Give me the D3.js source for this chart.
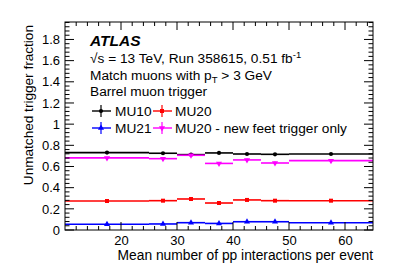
<!DOCTYPE html>
<html><head><meta charset="utf-8">
<script src="https://cdn.jsdelivr.net/npm/d3@7"></script>
<style>body{margin:0;background:#fff}svg{display:block;font-family:"Liberation Sans",Arial,sans-serif}</style>
</head><body><svg id="c" width="407" height="275"></svg>
<script>
const binEdges = [10, 25, 30, 35, 40, 45, 50, 65];
const mu10 = [0.731, 0.725, 0.712, 0.728, 0.718, 0.715, 0.718];
const mu20 = [0.274, 0.277, 0.293, 0.255, 0.284, 0.277, 0.277];
const mu21 = [0.054, 0.057, 0.069, 0.062, 0.078, 0.078, 0.069];
const mu20feet = [0.681, 0.674, 0.706, 0.629, 0.662, 0.633, 0.655];
const errs = [0.006, 0.006, 0.008, 0.008, 0.008, 0.008, 0.006];
const feetErrs = [0.012, 0.012, 0.014, 0.014, 0.014, 0.014, 0.012];
const xTicks = [20, 30, 40, 50, 60];
const yTicks = [0, 0.2, 0.4, 0.6, 0.8, 1, 1.2, 1.4, 1.6, 1.8];

const series = [
  {name: "MU10", vals: mu10, err: errs, color: "#000000", marker: "circle"},
  {name: "MU20", vals: mu20, err: errs, color: "#ff0000", marker: "square"},
  {name: "MU21", vals: mu21, err: errs, color: "#0000ff", marker: "triangle"},
  {name: "MU20 - new feet trigger only", vals: mu20feet, err: feetErrs, color: "#ff00ff", marker: "triangledown"}
];

const svg = d3.select("#c");
const L = 65, R = 373, T = 22, B = 230;
const x = d3.scaleLinear().domain([10, 65]).range([L, R]);
const y = d3.scaleLinear().domain([0, 1.965]).range([B, T]);

const symMap = {circle: d3.symbolCircle, square: d3.symbolSquare, triangle: d3.symbolTriangle, triangledown: d3.symbolTriangle};
function drawMarker(g, type, cx, cy, color, size) {
  g.append("path").attr("d", d3.symbol().type(symMap[type]).size(size)())
    .attr("fill", color)
    .attr("transform", `translate(${cx},${cy})` + (type === "triangledown" ? " rotate(180)" : ""));
}
const dg = svg.append("g");
series.forEach(s => {
  const g = dg.append("g");
  s.vals.forEach((v, i) => {
    const x0 = binEdges[i], x1 = binEdges[i + 1], xc = (x0 + x1) / 2;
    g.append("line").attr("x1", x(x0)).attr("x2", x(x1)).attr("y1", y(v)).attr("y2", y(v))
      .attr("stroke", s.color).attr("stroke-width", 1.6);
    g.append("line").attr("x1", x(xc)).attr("x2", x(xc)).attr("y1", y(v - s.err[i])).attr("y2", y(v + s.err[i]))
      .attr("stroke", s.color).attr("stroke-width", 1.2);
    drawMarker(g, s.marker, x(xc), y(v), s.color, s.marker === "circle" ? 14 : 16);
  });
});

const ax = svg.append("g").attr("stroke", "#000").attr("stroke-width", 1);
ax.append("rect").attr("x", L).attr("y", T).attr("width", R - L).attr("height", B - T).attr("fill", "none");
d3.range(12, 65, 2).forEach(v => {
  const len = v % 10 === 0 ? 8 : 4;
  ax.append("line").attr("x1", x(v)).attr("x2", x(v)).attr("y1", B).attr("y2", B - len);
  ax.append("line").attr("x1", x(v)).attr("x2", x(v)).attr("y1", T).attr("y2", T + len);
});
d3.range(0, 1.961, 0.04).forEach((v, i) => {
  const len = i % 5 === 0 ? 9 : 4.5;
  ax.append("line").attr("x1", L).attr("x2", L + len).attr("y1", y(v)).attr("y2", y(v));
  ax.append("line").attr("x1", R).attr("x2", R - len).attr("y1", y(v)).attr("y2", y(v));
});

const ff = "Liberation Sans, Arial, sans-serif";
const xAxis = d3.axisBottom(x).tickValues(xTicks).tickSize(0).tickPadding(6).tickFormat(d3.format("d"));
const xg = svg.append("g").attr("transform", `translate(0,${B})`).call(xAxis);
xg.select(".domain").remove();
xg.selectAll("text").attr("font-size", 13).attr("fill", "#000").attr("font-family", ff);
const yAxis = d3.axisLeft(y).tickValues(yTicks).tickSize(0).tickPadding(5).tickFormat(d => d === 0 || d === 1 ? d3.format("d")(d) : d3.format(".1f")(d));
const yg = svg.append("g").attr("transform", `translate(${L},0)`).call(yAxis);
yg.select(".domain").remove();
yg.selectAll("text").attr("font-size", 13).attr("fill", "#000").attr("font-family", ff);

svg.append("text").attr("x", R).attr("y", 260).attr("text-anchor", "end").attr("font-size", 13.8)
  .text("Mean number of pp interactions per event");
svg.append("text").attr("transform", `translate(33,${T + 3}) rotate(-90)`).attr("text-anchor", "end").attr("font-size", 13.6)
  .text("Unmatched trigger fraction");

const tx = 90, fs = 13.7;
svg.append("text").attr("x", tx).attr("y", 46).attr("font-size", 15.5).attr("font-weight", "bold").attr("font-style", "italic").text("ATLAS");
const t2 = svg.append("text").attr("x", tx).attr("y", 63).attr("font-size", fs);
t2.append("tspan").text("\u221As = 13 TeV, Run 358615, 0.51 fb");
t2.append("tspan").attr("dy", -5).attr("font-size", 9.5).text("-1");
const t3 = svg.append("text").attr("x", tx).attr("y", 80).attr("font-size", fs);
t3.append("tspan").text("Match muons with p");
t3.append("tspan").attr("dy", 3).attr("font-size", 9.5).text("T");
t3.append("tspan").attr("dy", -3).text(" > 3 GeV");
svg.append("text").attr("x", tx).attr("y", 96).attr("font-size", fs).text("Barrel muon trigger");

const legPos = [[101, 115, 0], [162, 175, 0], [101, 115, 1], [162, 175, 1]];
const rowY = [111, 128];
series.forEach((s, i) => {
  const [mx, txx, r] = legPos[i];
  const cy = rowY[r];
  svg.append("line").attr("x1", mx - 9).attr("x2", mx + 10).attr("y1", cy).attr("y2", cy).attr("stroke", s.color).attr("stroke-width", 1.4);
  svg.append("line").attr("x1", mx).attr("x2", mx).attr("y1", cy - 6).attr("y2", cy + 6).attr("stroke", s.color).attr("stroke-width", 1.2);
  drawMarker(svg, s.marker, mx, cy, s.color, s.marker === "circle" ? 14 : 16);
  svg.append("text").attr("x", txx).attr("y", cy + 5).attr("font-size", fs).text(s.name);
});
</script></body></html>
